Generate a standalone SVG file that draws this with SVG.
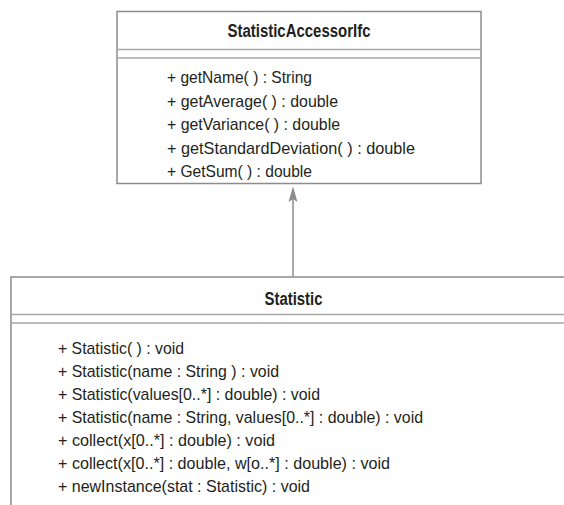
<svg xmlns="http://www.w3.org/2000/svg" width="564" height="505" viewBox="0 0 564 505">
<style>
.box{fill:#ffffff;stroke:#8c8c8c;stroke-width:1.5}
.sep{stroke:#a6a6a6;stroke-width:1.5;fill:none}
.title{font-family:"Liberation Sans",Arial,sans-serif;font-weight:bold;font-size:18px;fill:#231f20;text-anchor:middle}
.mem{font-family:"Liberation Sans",Arial,sans-serif;font-size:17px;fill:#231f20}
.conn{stroke:#8c8c8c;stroke-width:1.5;fill:none}
.head{fill:#8c8c8c;stroke:none}
</style>
<g id="StatisticAccessorIfc">
<rect class="box" x="117" y="11.5" width="364" height="172"/>
<line class="sep" x1="117" y1="49.5" x2="481" y2="49.5"/>
<line class="sep" x1="117" y1="58" x2="481" y2="58"/>
<text class="title" x="299" y="37" textLength="143" lengthAdjust="spacingAndGlyphs">StatisticAccessorIfc</text>
<text class="mem" x="167" y="83" textLength="145" lengthAdjust="spacingAndGlyphs">+ getName( ) : String</text>
<text class="mem" x="167" y="106.5" textLength="171" lengthAdjust="spacingAndGlyphs">+ getAverage( ) : double</text>
<text class="mem" x="167" y="130" textLength="173" lengthAdjust="spacingAndGlyphs">+ getVariance( ) : double</text>
<text class="mem" x="167" y="153.5" textLength="248" lengthAdjust="spacingAndGlyphs">+ getStandardDeviation( ) : double</text>
<text class="mem" x="167" y="177" textLength="145" lengthAdjust="spacingAndGlyphs">+ GetSum( ) : double</text>
</g>
<g id="Statistic">
<rect class="box" x="11" y="277" width="580" height="240"/>
<line class="sep" x1="11" y1="314.5" x2="564" y2="314.5"/>
<line class="sep" x1="11" y1="323" x2="564" y2="323"/>
<text class="title" x="293.5" y="305" textLength="58" lengthAdjust="spacingAndGlyphs">Statistic</text>
<text class="mem" x="58" y="354" textLength="126" lengthAdjust="spacingAndGlyphs">+ Statistic( ) : void</text>
<text class="mem" x="58" y="377" textLength="221" lengthAdjust="spacingAndGlyphs">+ Statistic(name : String ) : void</text>
<text class="mem" x="58" y="400" textLength="262" lengthAdjust="spacingAndGlyphs">+ Statistic(values[0..*] : double) : void</text>
<text class="mem" x="58" y="423" textLength="365" lengthAdjust="spacingAndGlyphs">+ Statistic(name : String, values[0..*] : double) : void</text>
<text class="mem" x="58" y="446" textLength="217" lengthAdjust="spacingAndGlyphs">+ collect(x[0..*] : double) : void</text>
<text class="mem" x="58" y="469" textLength="332" lengthAdjust="spacingAndGlyphs">+ collect(x[0..*] : double, w[o..*] : double) : void</text>
<text class="mem" x="58" y="492" textLength="252" lengthAdjust="spacingAndGlyphs">+ newInstance(stat : Statistic) : void</text>
</g>
<g id="connectors">
<line class="conn" x1="293" y1="277" x2="293" y2="198"/>
<path class="head" d="M293,186.5 L297.5,202 L293,199 L288.5,202 Z"/>
</g>
</svg>
